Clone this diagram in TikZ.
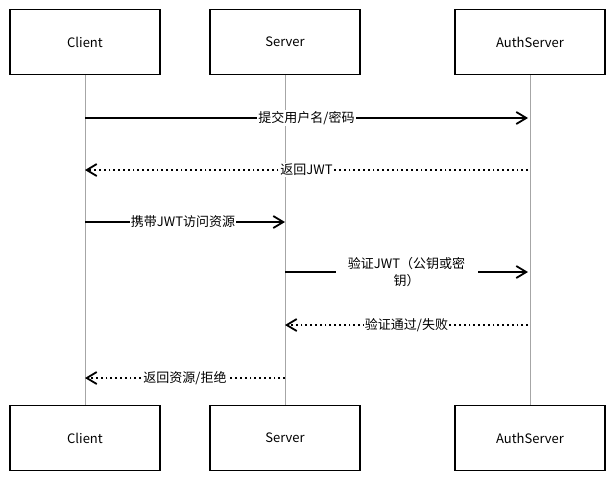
\documentclass[tikz,border=0pt]{standalone}
\usepackage{fontspec}
\setmainfont{Noto Sans CJK SC}
\usetikzlibrary{positioning}
\usetikzlibrary{calc}
\usetikzlibrary{arrows.meta}

\begin{document}
\begin{tikzpicture}[x=1pt,y=-1pt,
  actor/.style={draw,line width=1.3pt,minimum width=150pt,minimum height=65pt,font=\fontsize{13}{15}\selectfont},
  life/.style={draw=gray!70,thin},
  call/.style={line width=1.8pt,-{Straight Barb[length=10pt,width=12pt]}},
  reply/.style={line width=1.8pt,dash pattern=on 1.8pt off 3pt,-{Straight Barb[length=10pt,width=12pt]}},
  lbl/.style={fill=white,inner sep=1pt,font=\fontsize{13}{17}\selectfont}]
\useasboundingbox (0,0) rectangle (614,482);
\node[actor](clientT) at (85,42){Client};
\node[actor](serverT) at (285,42){Server};
\node[actor](authT) at (530,42){AuthServer};
\node[actor](clientB) at (85,438){Client};
\node[actor](serverB) at (285,438){Server};
\node[actor](authB) at (530,438){AuthServer};

\draw[life] (clientT) -- (clientB);
\draw[life] (serverT) -- (serverB);
\draw[life] (authT) -- (authB);

\coordinate (c1) at (85,118); \coordinate (a1) at (528,118);
\coordinate (c2) at (85,170); \coordinate (a2) at (528,170);
\coordinate (c3) at (85,222); \coordinate (s3) at (285,222);
\coordinate (s4) at (285,272); \coordinate (a4) at (528,272);
\coordinate (s5) at (285,325); \coordinate (a5) at (528,325);
\coordinate (c6) at (85,378); \coordinate (s6) at (285,378);

\draw[call] (c1) -- (a1) node[lbl,pos=0.5]{提交用户名/密码};
\draw[reply] (a2) -- (c2) node[lbl,pos=0.5]{返回JWT};
\draw[call] (c3) -- (s3) node[lbl,pos=0.49]{携带JWT访问资源};
\draw[call] (s4) -- (a4) node[lbl,pos=0.5,align=center,text width=140pt]{验证JWT（公钥或密\\钥）};
\draw[reply] (a5) -- (s5) node[lbl,pos=0.5]{验证通过/失败};
\draw[reply] (s6) -- (c6) node[lbl,pos=0.5]{返回资源/拒绝};
\end{tikzpicture}
\end{document}
